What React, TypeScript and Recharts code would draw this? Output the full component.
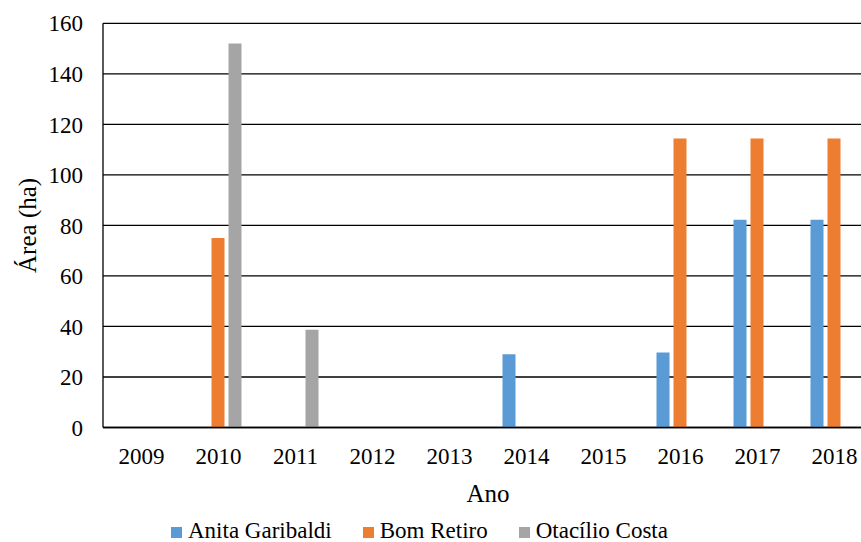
import { BarChart, Bar, XAxis, YAxis, CartesianGrid, Legend } from "recharts";

const years = ["2009", "2010", "2011", "2012", "2013", "2014", "2015", "2016", "2017", "2018"];
const anitaGaribaldi = [0, 0, 0, 0, 0, 29, 0, 29.7, 82.2, 82.2];
const bomRetiro = [0, 75, 0, 0, 0, 0, 0, 114.4, 114.4, 114.4];
const otacilioCosta = [0, 152, 38.7, 0, 0, 0, 0, 0, 0, 0];
const yTicks = [0, 20, 40, 60, 80, 100, 120, 140, 160];

const series = [
  { key: "anita", name: "Anita Garibaldi", color: "#5B9BD5" },
  { key: "bom", name: "Bom Retiro", color: "#ED7D31" },
  { key: "otacilio", name: "Otacílio Costa", color: "#A5A5A5" },
];

const data = years.map((ano, i) => ({
  ano,
  anita: anitaGaribaldi[i],
  bom: bomRetiro[i],
  otacilio: otacilioCosta[i],
}));

const FONT = '"Liberation Serif", "Times New Roman", serif';

function YTitle(props: any) {
  const { x, y, height } = props.viewBox;
  const cx = x + 28;
  const cy = y + height / 2;
  return (
    <text
      x={cx}
      y={cy}
      transform={`rotate(-90, ${cx}, ${cy})`}
      textAnchor="middle"
      dominantBaseline="central"
      fontSize={25}
      fontFamily={FONT}
      fill="#000"
    >
      Área (ha)
    </text>
  );
}

function XTitle(props: any) {
  const { x, y, width } = props.viewBox;
  return (
    <text x={x + width / 2} y={y + 74} textAnchor="middle" fontSize={25} fontFamily={FONT} fill="#000">
      Ano
    </text>
  );
}

// legend sits flush with the bottom edge, so keep the line box tight
function LegendRow() {
  return (
    <div
      style={{
        display: "flex",
        alignItems: "center",
        fontFamily: FONT,
        fontSize: 23,
        lineHeight: "20px",
        color: "#000",
        whiteSpace: "nowrap",
      }}
    >
      {series.map((s, i) => (
        <div key={s.key} style={{ display: "flex", alignItems: "center", marginRight: i < series.length - 1 ? 31 : 0 }}>
          <span
            style={{
              display: "inline-block",
              width: 11,
              height: 11,
              background: s.color,
              marginRight: 6,
              position: "relative",
              top: 1,
            }}
          />
          <span>{s.name}</span>
        </div>
      ))}
    </div>
  );
}

export default function App() {
  return (
    <div style={{ position: "absolute", left: 0, top: 0, width: 861, height: 542, overflow: "hidden", background: "#fff" }}>
      <BarChart
        width={900}
        height={542}
        data={data}
        margin={{ top: 23.3, right: 27, bottom: 64.5, left: 0 }}
        barCategoryGap={14.5}
        barGap={4}
        style={{ fontFamily: FONT }}
      >
        <CartesianGrid vertical={false} stroke="#000" strokeWidth={1.3} />
        <XAxis
          dataKey="ano"
          height={50}
          tickSize={0}
          tickMargin={20}
          stroke="#000"
          strokeWidth={1.6}
          tick={{ fill: "#000", fontSize: 23, fontFamily: FONT }}
          label={<XTitle />}
        />
        <YAxis
          width={103}
          domain={[0, 160]}
          ticks={yTicks}
          tickSize={0}
          tickMargin={20}
          stroke="#000"
          strokeWidth={1.3}
          tick={{ fill: "#000", fontSize: 23, fontFamily: FONT }}
          label={<YTitle />}
        />
        {series.map((s) => (
          <Bar key={s.key} dataKey={s.key} name={s.name} fill={s.color} isAnimationActive={false} />
        ))}
        <Legend
          layout="horizontal"
          verticalAlign="middle"
          align="center"
          content={<LegendRow />}
          wrapperStyle={{ left: 171, top: 521, width: "auto", height: "auto" }}
        />
      </BarChart>
    </div>
  );
}
